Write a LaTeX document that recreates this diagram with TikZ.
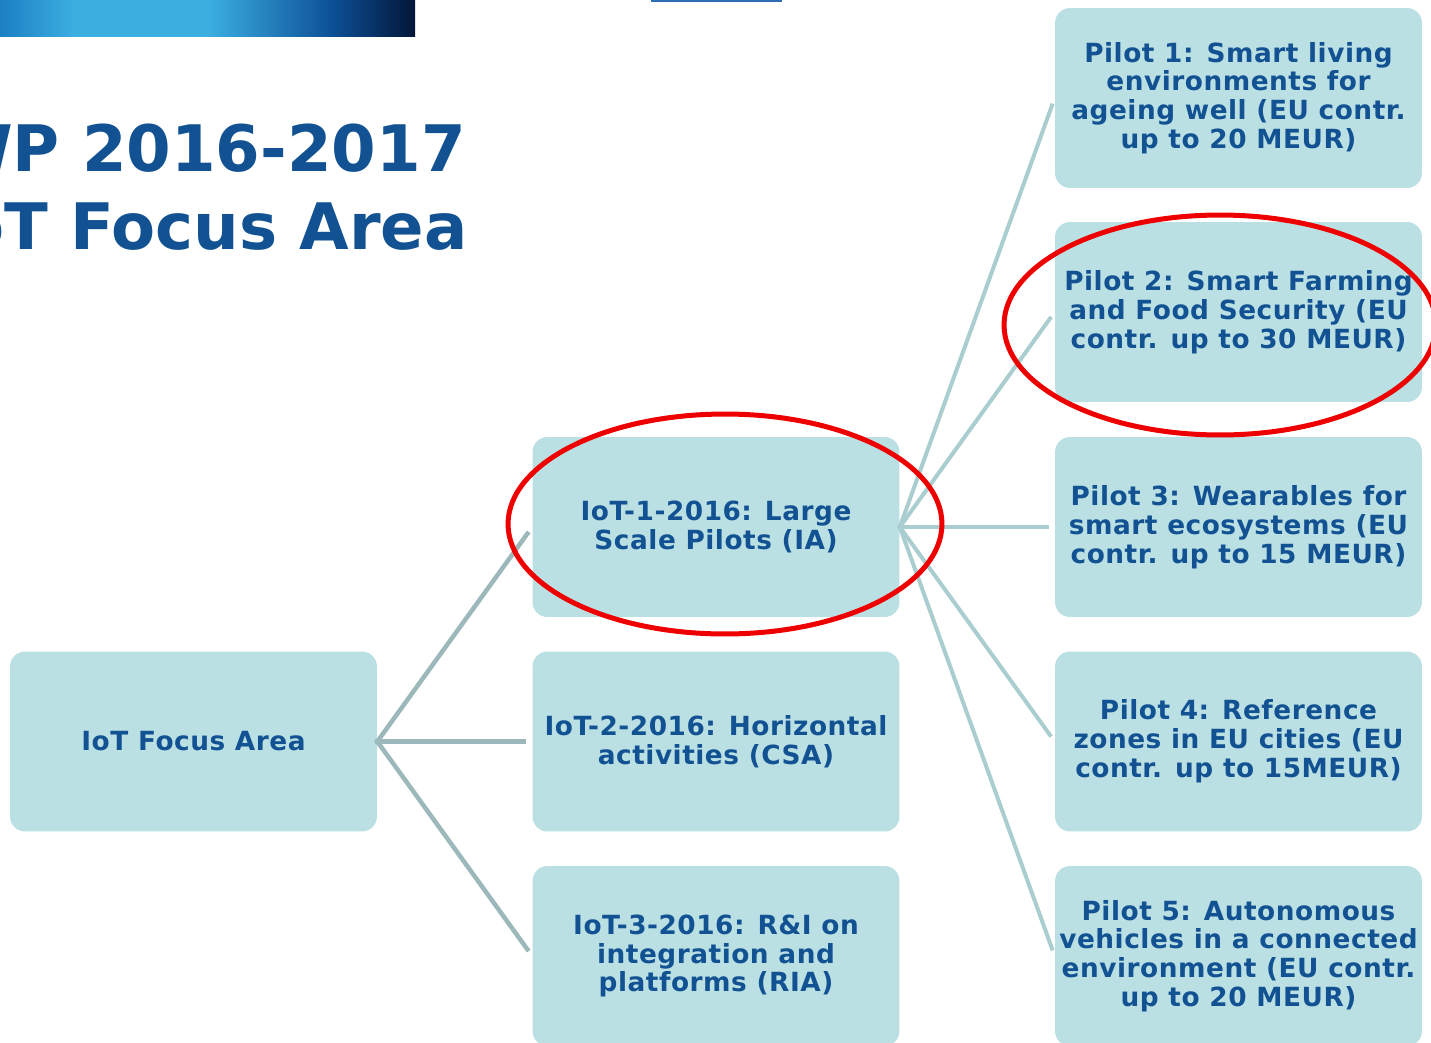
\documentclass[tikz,border=0pt]{standalone}
\usepackage{fontspec}
\setmainfont{DejaVu Sans}
\newfontfamily\boxfont[LetterSpace=2]{DejaVu Sans}
\definecolor{boxfill}{RGB}{186,224,228}
\definecolor{ecblue}{RGB}{18,82,146}
\definecolor{rootline}{RGB}{157,184,186}
\definecolor{pilotline}{RGB}{170,206,208}
\definecolor{ringred}{RGB}{238,0,0}
\definecolor{bannermid}{RGB}{28,128,195}
\definecolor{bannerlight}{RGB}{60,175,225}
\definecolor{bannerdeep}{RGB}{12,80,150}
\definecolor{bannerdark}{RGB}{3,22,56}
\definecolor{tabblue}{RGB}{46,109,180}
\pgfdeclarehorizontalshading{banner}{100bp}{color(0bp)=(bannermid); color(25bp)=(bannermid);
  color(34bp)=(bannerlight); color(50bp)=(bannerlight); color(65bp)=(bannerdeep);
  color(75bp)=(bannerdark); color(100bp)=(bannerdark)}

\begin{document}
\begin{tikzpicture}[x=0.02cm,y=-0.02cm,
  topic/.style={rounded corners=0.3cm,fill=boxfill,text=ecblue,align=center,
    font=\boxfont\bfseries\fontsize{15pt}{16.4pt}\selectfont,
    minimum width=7.34cm,minimum height=3.6cm,inner sep=0pt},
  title/.style={text=ecblue,font=\bfseries\fontsize{36.5pt}{44pt}\selectfont,inner sep=0pt},
  rootlink/.style={draw=rootline,line width=0.09cm,shorten >=0.12cm,shorten <=-0.04cm},
  pilotlink/.style={draw=pilotline,line width=0.08cm,shorten >=0.12cm,shorten <=-0.04cm},
  ring/.style={draw=ringred,line width=0.1cm}
]
  \useasboundingbox (0,0) rectangle (1431,1042);
  \clip (0,0) rectangle (1431,1042);

  % header
  \shade[shading=banner] (0,0) rectangle (415,36);
  \fill[tabblue] (651,0) rectangle (782,2);
  \node[title,anchor=base east] (wp) at (466,171) {WP 2016-2017};
  \node[title,anchor=base east] (area) at (468,249) {IoT Focus Area};

  % tree
  \node[topic] (root) at (193.5,741.5) {IoT Focus Area};

  \node[topic] (iot1) at (716,527) {IoT-1-2016: Large\\Scale Pilots (IA)};
  \node[topic] (iot2) at (716,741.5) {IoT-2-2016: Horizontal\\activities (CSA)};
  \node[topic] (iot3) at (716,956) {IoT-3-2016: R\&I on\\integration and\\platforms (RIA)};

  \node[topic] (p1) at (1238.5,98) {Pilot 1: Smart living\\environments for\\ageing well (EU contr.\\up to 20 MEUR)};
  \node[topic] (p2) at (1238.5,312) {Pilot 2: Smart Farming\\and Food Security (EU\\contr. up to 30 MEUR)};
  \node[topic] (p3) at (1238.5,527) {Pilot 3: Wearables for\\smart ecosystems (EU\\contr. up to 15 MEUR)};
  \node[topic] (p4) at (1238.5,741.5) {Pilot 4: Reference\\zones in EU cities (EU\\contr. up to 15MEUR)};
  \node[topic] (p5) at (1238.5,956) {Pilot 5: Autonomous\\vehicles in a connected\\environment (EU contr.\\up to 20 MEUR)};

  \foreach \n in {iot1,iot2,iot3}
    \draw[rootlink] (root.east) -- (\n.west);
  \foreach \n in {p1,p2,p3,p4,p5}
    \draw[pilotlink] (iot1.east) -- (\n.west);

  % highlights
  \draw[ring] (725,524) ellipse [x radius=4.34cm,y radius=2.2cm];
  \draw[ring] (1220,325) ellipse [x radius=4.32cm,y radius=2.2cm];
\end{tikzpicture}
\end{document}
